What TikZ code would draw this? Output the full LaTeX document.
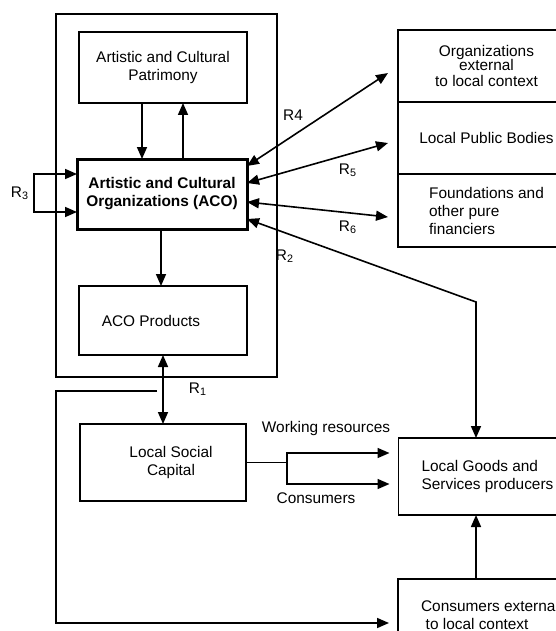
\documentclass[tikz,border=0pt]{standalone}
\usepackage{fontspec}
\setmainfont{Liberation Sans}
\usepackage{tikz}
\usetikzlibrary{arrows.meta,positioning}
\tikzstyle{box}=[draw,rectangle,line width=0.75pt,align=center,inner sep=1pt,outer sep=0pt]
\tikzstyle{lbl}=[inner sep=0pt]
\tikzstyle{arr}=[line width=0.8pt,-{Triangle[length=6pt,width=5pt]}]
\tikzstyle{biarr}=[line width=0.8pt,{Triangle[length=6pt,width=5pt]}-{Triangle[length=6pt,width=5pt]}]

\begin{document}
\begin{tikzpicture}[
  x=0.5pt,y=-0.5pt,
  font=\fontsize{7.7}{9}\selectfont
]
\useasboundingbox (0,0) rectangle (556,631);

% the organizations and what they hold
\draw[line width=0.75pt] (56,14) rectangle (277,377);
\node [box, minimum width=84pt, minimum height=35.5pt] (pat) at (163,67.5) {Artistic and Cultural\\Patrimony};
\node [box, line width=1.5pt, font=\fontsize{7.7}{9}\selectfont\bfseries,
  minimum width=85pt, minimum height=35pt] (aco) at (162,194) {Artistic and Cultural\\Organizations (ACO)};
\node [box, minimum width=84pt, minimum height=34.5pt] (prod) at (163,320.5) {ACO Products\hspace*{12pt}};

% outside the organizations
\node [box, minimum width=88.5pt, minimum height=36pt] (orgext) at (486.5,66) {Organizations\\[-2pt]external\\[-1pt]to local context};
\node [box, minimum width=88.5pt, minimum height=36pt, below=0pt of orgext] (pub) {Local Public Bodies};
\node [box, align=left, minimum width=88.5pt, minimum height=36.5pt, below=0pt of pub] (found) {Foundations and\\other pure\\financiers};
\node [box, minimum width=83pt, minimum height=38.5pt] (lsc) at (163,462.5) {\hspace*{8pt}Local Social\\\hspace*{8pt}Capital};
\node [box, align=left, minimum width=89pt, minimum height=38.5pt] (goods) at (487.5,476.5) {Local Goods and\\Services producers};
\node [box, align=left, minimum width=92pt, minimum height=36pt] (consext) at (490,615) {Consumers external\\\hspace*{0.3em}to local context};

% labels
\node [lbl] (l1) at (198,389) {R\textsubscript{1}};
\node [lbl] (l2) at (285,256) {R\textsubscript{2}};
\node [lbl] (l3) at (20,193) {R\textsubscript{3}};
\node [lbl] (l4) at (293,115) {R4};
\node [lbl] (l5) at (348,170) {R\textsubscript{5}};
\node [lbl] (l6) at (348,227) {R\textsubscript{6}};
\node [lbl] (work) at (326,429) {Working resources};
\node [lbl] (cons) at (316,498) {Consumers};

\coordinate (r3) at (34,193);
\coordinate (r2) at (476,302);
\coordinate (r1src) at (157,391);
\coordinate (r1bend) at (56,391);
\coordinate (split) at (287,462.5);

% relations
\draw[arr] ([xshift=-10.5pt]pat.south) -- ([xshift=-10pt]aco.north);
\draw[arr] ([xshift=10.5pt]aco.north) -- ([xshift=10pt]pat.south);
\draw[arr] ([xshift=-0.5pt]aco.south) -- ([xshift=-1pt]prod.north);
\draw[biarr] ([yshift=10pt]aco.west) -| (r3) |- ([yshift=-9pt]aco.west);
\draw[biarr] ([yshift=14pt]aco.east) -- ([xshift=-5pt,yshift=-3.5pt]orgext.west);
\draw[biarr] ([yshift=5.5pt]aco.east) -- ([xshift=-5pt,yshift=-2.5pt]pub.west);
\draw[biarr] ([yshift=-4pt]aco.east) -- ([xshift=-5pt,yshift=-3.25pt]found.west);
\draw[biarr] ([yshift=-12.5pt]aco.east) -- (r2) -- (r2 |- goods.north);
\draw[biarr] (prod.south) -- (lsc.north);
\draw[arr] (r1src) -- (r1bend) |- ([xshift=-4.5pt,yshift=-4pt]consext.west);
\draw[line width=0.8pt] (lsc.east) -- (split);
\draw[arr] (split) |- ([xshift=-4.5pt,yshift=11.75pt]goods.west);
\draw[arr] (split) |- ([xshift=-4.5pt,yshift=-3.75pt]goods.west);
\draw[arr] (consext.north -| r2) -- (goods.south -| r2);

\end{tikzpicture}
\end{document}
